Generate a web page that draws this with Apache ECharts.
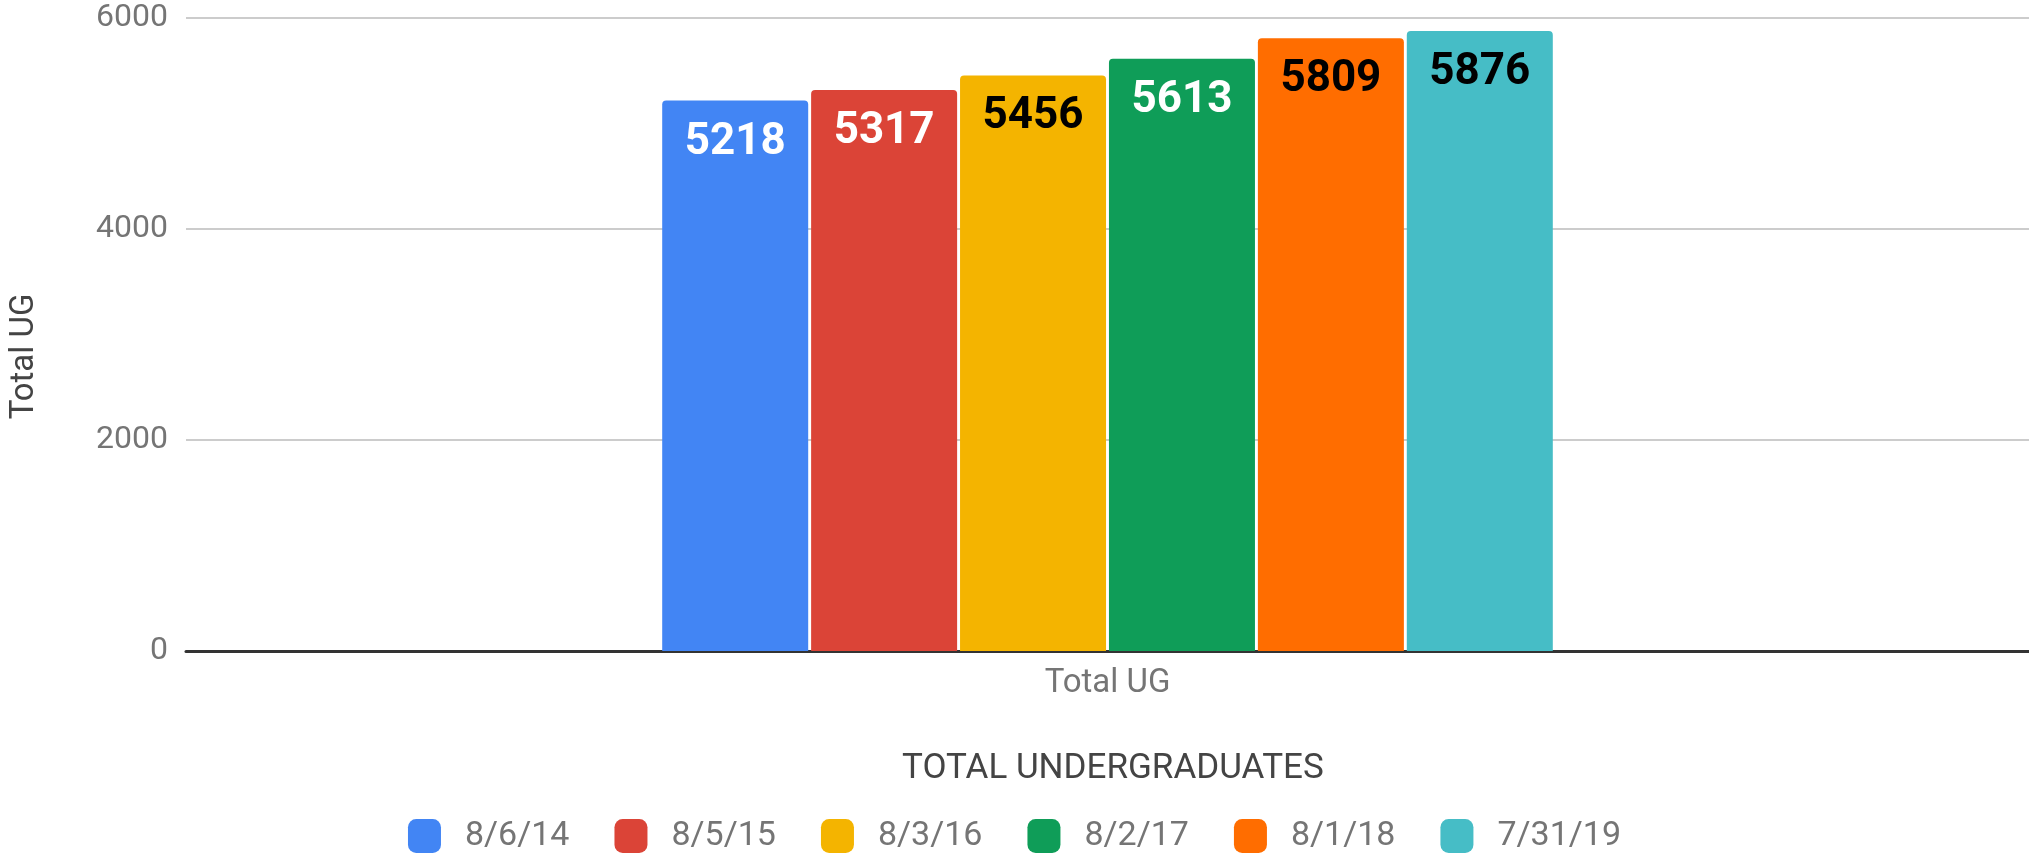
<!DOCTYPE html>
<html>
<head>
<meta charset="utf-8">
<script src="https://cdn.jsdelivr.net/npm/echarts@6/dist/echarts.min.js"></script>
<style>
html,body{margin:0;padding:0;background:#fff;}
#chart{width:2029px;height:855px;}
</style>
</head>
<body>
<div id="chart"></div>
<script>
const categories = ['Total UG'];
const seriesNames = ['8/6/14', '8/5/15', '8/3/16', '8/2/17', '8/1/18', '7/31/19'];
const seriesValues = [5218, 5317, 5456, 5613, 5809, 5876];
const yTicks = { min: 0, max: 6000, interval: 2000 };

const colors = ['#4285F4', '#DB4437', '#F4B400', '#0F9D58', '#FF6D00', '#46BDC6'];
const labelColors = ['#ffffff', '#ffffff', '#000000', '#ffffff', '#000000', '#000000'];

const chart = echarts.init(document.getElementById('chart'), null, { renderer: 'canvas' });
const FONT = 'Roboto';

const series = seriesNames.map((name, i) => ({
  name: name,
  type: 'bar',
  data: [seriesValues[i]],
  barWidth: 146,
  barGap: '2%',
  itemStyle: { color: colors[i], borderRadius: [4, 4, 0, 0] },
  label: {
    show: true,
    position: 'insideTop',
    distance: 20,
    color: labelColors[i],
    fontFamily: FONT,
    fontWeight: 'bold',
    fontSize: 44
  }
}));

chart.setOption({
  animation: false,
  color: colors,
  title: {
    text: 'TOTAL UNDERGRADUATES',
    left: 897,
    top: 747,
    textStyle: { fontFamily: FONT, fontSize: 35, fontWeight: 'normal', color: '#444444' }
  },
  legend: {
    top: 814,
    left: 'center',
    itemWidth: 33,
    itemHeight: 34,
    itemGap: 45,
    icon: 'roundRect',
    textStyle: { fontFamily: FONT, fontSize: 34, color: '#757575', padding: [0, 0, 0, 19] },
    data: seriesNames
  },
  grid: { left: 178, right: 0, top: 18, bottom: 204, containLabel: false },
  xAxis: {
    type: 'category',
    data: categories,
    axisTick: { show: false },
    axisLine: { lineStyle: { color: '#333333', width: 3 } },
    axisLabel: { fontFamily: FONT, fontSize: 33, color: '#757575', margin: 16 }
  },
  yAxis: {
    type: 'value',
    min: yTicks.min,
    max: yTicks.max,
    interval: yTicks.interval,
    name: 'Total UG',
    nameLocation: 'middle',
    nameRotate: 90,
    nameGap: 145,
    nameTextStyle: { fontFamily: FONT, fontSize: 33, color: '#444444', padding: [0, 44, 0, 0] },
    axisLine: { show: false },
    axisTick: { show: false },
    axisLabel: {
      fontFamily: FONT, fontSize: 32, color: '#757575', margin: 18,
      formatter: function (v) { return String(v); }
    },
    splitLine: { lineStyle: { color: '#cccccc', width: 2 } }
  },
  series: series
});
</script>
</body>
</html>
